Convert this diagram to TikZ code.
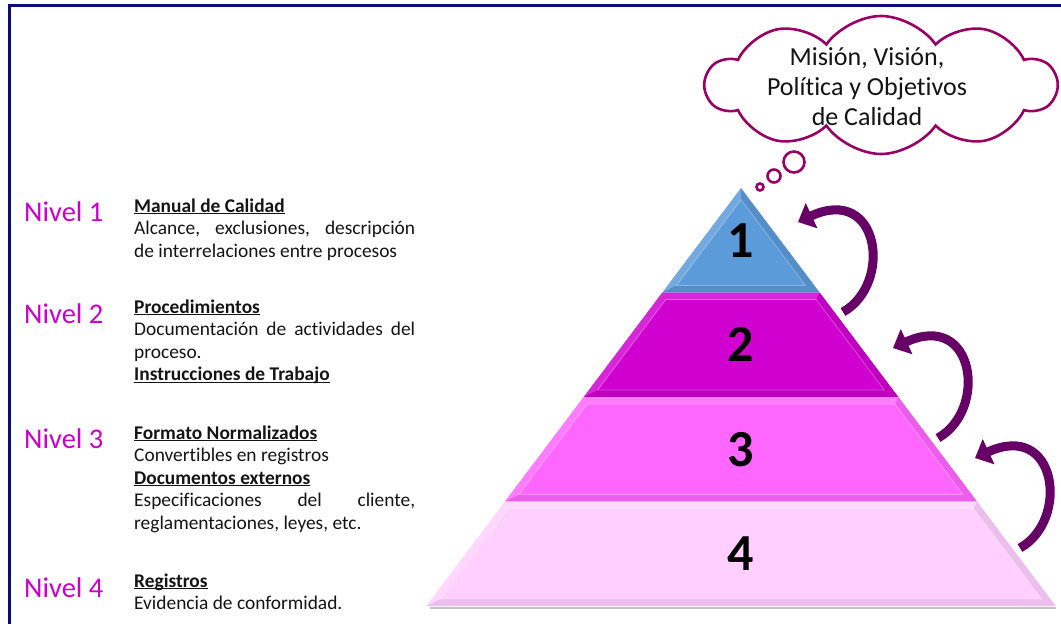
\documentclass[tikz,border=0pt]{standalone}
\usepackage{fontspec}
\setmainfont{Carlito}[Ligatures=NoCommon]
\usetikzlibrary{shapes.symbols,arrows.meta}
\definecolor{framenavy}{RGB}{12,12,120}
\definecolor{nivmag}{RGB}{204,0,204}
\definecolor{cloudline}{RGB}{153,0,102}
\definecolor{arrowpurple}{RGB}{102,0,102}
\definecolor{lvone}{RGB}{91,155,218}
\definecolor{lvtwo}{RGB}{208,0,208}
\definecolor{lvthree}{RGB}{255,102,255}
\definecolor{lvfour}{RGB}{255,208,255}
\definecolor{bodytext}{RGB}{20,20,20}
\newcommand\hdr[1]{\underline{\smash{\textbf{#1}}}}

\begin{document}
\begin{tikzpicture}[x=1pt, y=-1pt,
  nivel/.style={anchor=base west, inner sep=0pt, text=nivmag, font=\fontsize{28.5}{32}\selectfont},
  descr/.style={anchor=base west, inner sep=0pt, text width=281pt, align=justify, text=bodytext, font=\fontsize{19.4}{22.6}\selectfont},
  levnum/.style={inner sep=0pt, font=\fontsize{52}{52}\selectfont\bfseries},
  bubble/.style={circle, inner sep=0pt, draw=cloudline, line width=2.6pt, fill=white},
  curvarrow/.style={draw=arrowpurple, line width=9pt, -{Triangle[length=15pt,width=27pt]}}]
\useasboundingbox (0,0) rectangle (1061,624);
\draw[framenavy, line width=3pt] (9.5,624) -- (9.5,5.5) -- (1061,5.5);

\foreach \i/\col in {1/lvone,2/lvtwo,3/lvthree,4/lvfour}{
  \pgfmathsetmacro\yt{188+(\i-1)*104.5}
  \pgfmathsetmacro\yb{\yt+104.5}
  \pgfmathsetmacro\wt{0.753*(\yt-188)}
  \pgfmathsetmacro\wb{0.753*(\yb-188)}
  \pgfmathsetmacro\yti{max(\yt+7,199.7)}
  \pgfmathsetmacro\ybi{\yb-7}
  \pgfmathsetmacro\wti{max(0.753*(\yti-188)-8.8,0)}
  \pgfmathsetmacro\wbi{0.753*(\ybi-188)-8.8}
  \fill[\col] (741-\wt,\yt) -- (741+\wt,\yt) -- (741+\wb,\yb) -- (741-\wb,\yb) -- cycle;
  \fill[black, opacity=.08] (741+\wt,\yt) -- (741+\wb,\yb) -- (741-\wb,\yb) -- (741-\wbi,\ybi) -- (741+\wbi,\ybi) -- (741+\wti,\yti) -- cycle;
  \fill[white, opacity=.15] (741-\wt,\yt) -- (741+\wt,\yt) -- (741+\wti,\yti) -- (741-\wti,\yti) -- (741-\wbi,\ybi) -- (741-\wb,\yb) -- cycle;
  \draw[white, opacity=.3, line width=.8pt] (741-\wti,\yti) -- (741+\wti,\yti) -- (741+\wbi,\ybi) -- (741-\wbi,\ybi) -- cycle;
  \node[levnum] (lev\i) at (741,{(\yt+\yb)/2}) {\i};
}
\draw[black!40, line width=2pt, opacity=.6] (430,607.5) -- (1056,607.5);

\foreach \tx/\ty [count=\k] in {798/222,893/348,975/458}{
  \coordinate (tip\k) at (\tx,\ty);
  \draw[curvarrow] ([shift={(45,90)}]tip\k) .. controls ([shift={(95,62)}]tip\k) and ([shift={(82,-38)}]tip\k) .. (tip\k);
}

\node[cloud, cloud puffs=10, cloud puff arc=110, aspect=2.5, draw=cloudline, line width=2.6pt, fill=white,
  minimum width=350pt, minimum height=138pt] (cloud) at (881,85) {};
\node[align=center, text=bodytext, font=\fontsize{26}{30}\selectfont] (mvp) at (867,87) {Misión, Visión,\\Política y Objetivos\\de Calidad};
\node[bubble, minimum size=21pt] (bub1) at (794,162) {};
\node[bubble, minimum size=13pt] (bub2) at (774,176) {};
\node[bubble, minimum size=7pt] (bub3) at (760,187) {};

\node[nivel] (niv1) at (24,221) {Nivel 1};
\node[descr] (txt1) at (134,212) {\hdr{Manual de Calidad}\\ Alcance, exclusiones, descripción\linebreak de interrelaciones entre procesos};
\node[nivel] (niv2) at (24,323) {Nivel 2};
\node[descr] (txt2) at (134,313) {\hdr{Procedimientos}\\ Documentación de actividades del\linebreak proceso.\\ \hdr{Instrucciones de Trabajo}};
\node[nivel] (niv3) at (24,448) {Nivel 3};
\node[descr] (txt3) at (134,439) {\hdr{Formato Normalizados}\\ Convertibles en registros\\ \hdr{Documentos externos}\\ Especificaciones del cliente,\linebreak reglamentaciones, leyes, etc.};
\node[nivel] (niv4) at (24,597) {Nivel 4};
\node[descr] (txt4) at (134,587) {\hdr{Registros}\\ Evidencia de conformidad.};
\end{tikzpicture}
\end{document}
